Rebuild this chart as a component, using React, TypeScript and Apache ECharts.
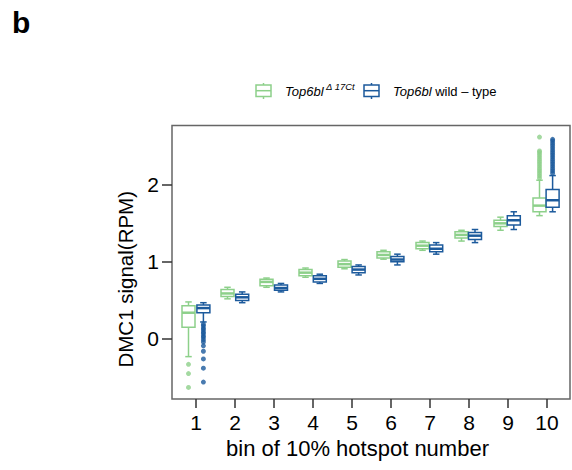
import React, { useEffect, useRef } from "react";
import * as echarts from "echarts";

// ---- data ----
const categories = ["1", "2", "3", "4", "5", "6", "7", "8", "9", "10"];
const yTicks = [0, 1, 2];

// [min, Q1, median, Q3, max]
const mutantBoxes = [
  [-0.23, 0.15, 0.34, 0.43, 0.48],
  [0.52, 0.55, 0.59, 0.64, 0.67],
  [0.67, 0.69, 0.74, 0.775, 0.79],
  [0.8, 0.82, 0.86, 0.9, 0.92],
  [0.91, 0.93, 0.97, 1.01, 1.03],
  [1.035, 1.05, 1.09, 1.13, 1.15],
  [1.15, 1.17, 1.21, 1.25, 1.27],
  [1.27, 1.31, 1.35, 1.39, 1.41],
  [1.41, 1.46, 1.5, 1.54, 1.58],
  [1.6, 1.65, 1.73, 1.83, 2.06],
];
const wildBoxes = [
  [0.22, 0.34, 0.4, 0.44, 0.47],
  [0.47, 0.5, 0.54, 0.58, 0.61],
  [0.61, 0.63, 0.66, 0.7, 0.72],
  [0.72, 0.74, 0.78, 0.82, 0.84],
  [0.83, 0.86, 0.9, 0.94, 0.96],
  [0.96, 1.0, 1.03, 1.07, 1.1],
  [1.1, 1.13, 1.17, 1.22, 1.25],
  [1.25, 1.29, 1.34, 1.38, 1.42],
  [1.42, 1.48, 1.54, 1.6, 1.65],
  [1.65, 1.71, 1.8, 1.94, 2.12],
];
// outliers: [category index, value]
const mutantOutliers = [
  [0, -0.33], [0, -0.45], [0, -0.63],
  [9, 2.09], [9, 2.12], [9, 2.15], [9, 2.18], [9, 2.21], [9, 2.24], [9, 2.27],
  [9, 2.3], [9, 2.33], [9, 2.36], [9, 2.39], [9, 2.42], [9, 2.44], [9, 2.62],
];
const wildOutliers = [
  [0, 0.19], [0, 0.17], [0, 0.14], [0, 0.12], [0, 0.09], [0, 0.07], [0, 0.04],
  [0, 0.02], [0, -0.01], [0, -0.04], [0, -0.09], [0, -0.16], [0, -0.26],
  [0, -0.38], [0, -0.56],
  [9, 2.15], [9, 2.18], [9, 2.21], [9, 2.24], [9, 2.27], [9, 2.3], [9, 2.33],
  [9, 2.36], [9, 2.39], [9, 2.42], [9, 2.45], [9, 2.48], [9, 2.51], [9, 2.54],
  [9, 2.57], [9, 2.59],
];

const GREEN = "#8DD08A";
const BLUE = "#1C5A9C";
const FONT = "Liberation Sans";
const Y_MIN = -0.78;
const Y_MAX = 2.77;

function makeBoxRenderer(color: string) {
  return (params: any, api: any) => {
    const x = api.value(0);
    const pMin = api.coord([x, api.value(1)]);
    const pQ1 = api.coord([x, api.value(2)]);
    const pMed = api.coord([x, api.value(3)]);
    const pQ3 = api.coord([x, api.value(4)]);
    const pMax = api.coord([x, api.value(5)]);
    const cx = pMin[0];
    const hw = 6.5;
    const sw = 3.25;
    const st = { stroke: color, lineWidth: 1.5, fill: null };
    return {
      type: "group",
      children: [
        { type: "line", shape: { x1: cx, y1: pMin[1], x2: cx, y2: pQ1[1] }, style: st },
        { type: "line", shape: { x1: cx, y1: pQ3[1], x2: cx, y2: pMax[1] }, style: st },
        { type: "line", shape: { x1: cx - sw, y1: pMin[1], x2: cx + sw, y2: pMin[1] }, style: st },
        { type: "line", shape: { x1: cx - sw, y1: pMax[1], x2: cx + sw, y2: pMax[1] }, style: st },
        {
          type: "rect",
          shape: { x: cx - hw, y: pQ3[1], width: 2 * hw, height: pQ1[1] - pQ3[1] },
          style: { fill: "#fff", stroke: color, lineWidth: 1.5 },
        },
        { type: "line", shape: { x1: cx - hw, y1: pMed[1], x2: cx + hw, y2: pMed[1] }, style: { stroke: color, lineWidth: 2.5 } },
      ],
    };
  };
}

export default function App() {
  const ref = useRef<HTMLDivElement>(null);
  useEffect(() => {
    if (!ref.current) return;
    const chart = echarts.init(ref.current, null, { renderer: "svg" });
    const top = 125.5;
    const height = 273.5;
    const hiddenY = (i: number) => ({
      gridIndex: i, type: "value", min: Y_MIN, max: Y_MAX, show: false,
      splitLine: { show: false },
    });
    const hiddenX = (i: number) => ({
      gridIndex: i, type: "category", data: categories, show: false,
    });
    const legendIcon = (x: number, color: string) => ({
      type: "group",
      children: [
        { type: "line", shape: { x1: x + 7.5, y1: 83, x2: x + 7.5, y2: 99 }, style: { stroke: color, lineWidth: 1.5 } },
        { type: "rect", shape: { x, y: 85, width: 15, height: 11.5 }, style: { fill: "#fff", stroke: color, lineWidth: 1.5 } },
        { type: "line", shape: { x1: x, y1: 90.7, x2: x + 15, y2: 90.7 }, style: { stroke: color, lineWidth: 1.5 } },
      ],
    });
    const boxData = (boxes: number[][]) => boxes.map((b, i) => [i, ...b]);
    chart.setOption({
      animation: false,
      textStyle: { fontFamily: FONT },
      grid: [
        { left: 172, top, width: 398, height, show: true, borderColor: "#666", borderWidth: 1.5 },
        { left: 176.5, top, width: 390, height },
        { left: 169, top, width: 390, height },
        { left: 184, top, width: 390, height },
      ],
      xAxis: [
        { gridIndex: 0, type: "value", min: 0, max: 1, show: false },
        {
          gridIndex: 1, type: "category", data: categories, boundaryGap: true,
          axisLine: { show: false, onZero: false },
          axisTick: { show: true, alignWithLabel: true, length: 9, lineStyle: { color: "#333", width: 1.5 } },
          axisLabel: { fontSize: 21, color: "#000", margin: 13, interval: 0, fontFamily: FONT },
          name: "bin of 10% hotspot number", nameLocation: "middle", nameGap: 38,
          nameTextStyle: { fontSize: 22, color: "#000", fontFamily: FONT, padding: [0, 28, 0, 0] },
        },
        hiddenX(2),
        hiddenX(3),
      ],
      yAxis: [
        {
          gridIndex: 0, type: "value", min: Y_MIN, max: Y_MAX,
          axisLine: { show: false }, splitLine: { show: false },
          axisTick: { show: true, length: 10, customValues: yTicks, lineStyle: { color: "#333", width: 1.5 } },
          axisLabel: { customValues: yTicks, fontSize: 21, color: "#000", margin: 13, fontFamily: FONT },
          name: "DMC1 signal(RPM)", nameLocation: "middle", nameGap: 36, nameRotate: 90,
          nameTextStyle: { fontSize: 20.5, color: "#000", fontFamily: FONT, padding: [0, 34, 0, 0] },
        },
        hiddenY(1),
        hiddenY(2),
        hiddenY(3),
      ],
      series: [
        {
          type: "custom", name: "mutant", xAxisIndex: 2, yAxisIndex: 2,
          data: boxData(mutantBoxes), encode: { x: 0, y: [1, 2, 3, 4, 5] },
          renderItem: makeBoxRenderer(GREEN),
        },
        {
          type: "custom", name: "wild", xAxisIndex: 3, yAxisIndex: 3,
          data: boxData(wildBoxes), encode: { x: 0, y: [1, 2, 3, 4, 5] },
          renderItem: makeBoxRenderer(BLUE),
        },
        {
          type: "scatter", xAxisIndex: 2, yAxisIndex: 2, data: mutantOutliers,
          symbolSize: 5, itemStyle: { color: GREEN },
        },
        {
          type: "scatter", xAxisIndex: 3, yAxisIndex: 3, data: wildOutliers,
          symbolSize: 5, itemStyle: { color: BLUE },
        },
      ],
      graphic: [
        {
          type: "text", x: 12, y: 22,
          style: { text: "b", fontSize: 30, fontWeight: "bold", fontFamily: FONT, fill: "#000", verticalAlign: "middle" },
        },
        legendIcon(256, GREEN),
        {
          type: "text", x: 285, y: 91,
          style: { text: "Top6bl", fontSize: 13, fontStyle: "italic", fontFamily: FONT, fill: "#000", verticalAlign: "middle" },
        },
        {
          type: "text", x: 326, y: 86,
          style: { text: "Δ 17Ct", fontSize: 9.5, fontStyle: "italic", fontFamily: FONT, fill: "#000", verticalAlign: "middle" },
        },
        legendIcon(364, BLUE),
        {
          type: "text", x: 393, y: 91,
          style: {
            text: "{i|Top6bl} wild – type",
            fontSize: 13, fontFamily: FONT, fill: "#000", verticalAlign: "middle",
            rich: { i: { fontStyle: "italic", fontSize: 13, fontFamily: FONT } },
          },
        },
      ],
    });
    return () => chart.dispose();
  }, []);
  return (
    <div
      ref={ref}
      style={{ position: "fixed", left: 0, top: 0, width: 572, height: 470, background: "#fff" }}
    />
  );
}
